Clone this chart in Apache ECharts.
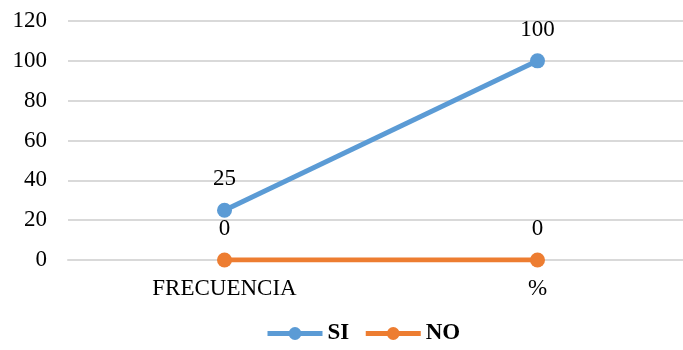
<!DOCTYPE html>
<html>
<head>
<meta charset="utf-8">
<script src="https://cdn.jsdelivr.net/npm/echarts@6/dist/echarts.min.js"></script>
<style>
  html, body { margin: 0; padding: 0; background: #fff; }
  #chart { width: 683px; height: 350px; }
</style>
</head>
<body>
<div id="chart"></div>
<script>
// Categories and series values
const categories = ['FRECUENCIA', '%'];
const siValues = [25, 100];
const noValues = [0, 0];
const yTicks = { min: 0, max: 120, interval: 20 };

const FONT = '"Liberation Serif", "Times New Roman", serif';
const FS = 23;

const chart = echarts.init(document.getElementById('chart'));
chart.setOption({
  animation: false,
  backgroundColor: '#ffffff',
  grid: { left: 68, top: 21, width: 626, height: 239, outerBoundsMode: 'none', containLabel: false },
  legend: {
    top: 322,
    left: 265,
    padding: 0,
    itemWidth: 55,
    itemHeight: 16,
    itemGap: 14,
    textStyle: { fontFamily: FONT, fontSize: FS, fontWeight: 'bold', color: '#000' },
    lineStyle: { width: 5 },
    data: ['SI', 'NO']
  },
  xAxis: {
    type: 'category',
    data: categories,
    axisLine: { show: true, lineStyle: { color: '#d9d9d9', width: 2 } },
    axisTick: { show: false },
    axisLabel: { fontFamily: FONT, fontSize: FS, color: '#000', margin: 17 }
  },
  yAxis: {
    type: 'value',
    min: yTicks.min,
    max: yTicks.max,
    interval: yTicks.interval,
    axisLine: { show: false },
    axisTick: { show: false },
    splitLine: { lineStyle: { color: '#d9d9d9', width: 2 } },
    axisLabel: { fontFamily: FONT, fontSize: FS, color: '#000', margin: 21 }
  },
  series: [
    {
      name: 'SI',
      type: 'line',
      data: siValues,
      symbol: 'circle',
      symbolSize: 15,
      lineStyle: { color: '#5b9bd5', width: 5 },
      itemStyle: { color: '#5b9bd5' },
      label: { show: true, position: 'top', distance: 12, fontFamily: FONT, fontSize: FS, color: '#000' }
    },
    {
      name: 'NO',
      type: 'line',
      data: noValues,
      symbol: 'circle',
      symbolSize: 15,
      lineStyle: { color: '#ed7d31', width: 5 },
      itemStyle: { color: '#ed7d31' },
      label: { show: true, position: 'top', distance: 12, fontFamily: FONT, fontSize: FS, color: '#000' }
    }
  ]
});
</script>
</body>
</html>
